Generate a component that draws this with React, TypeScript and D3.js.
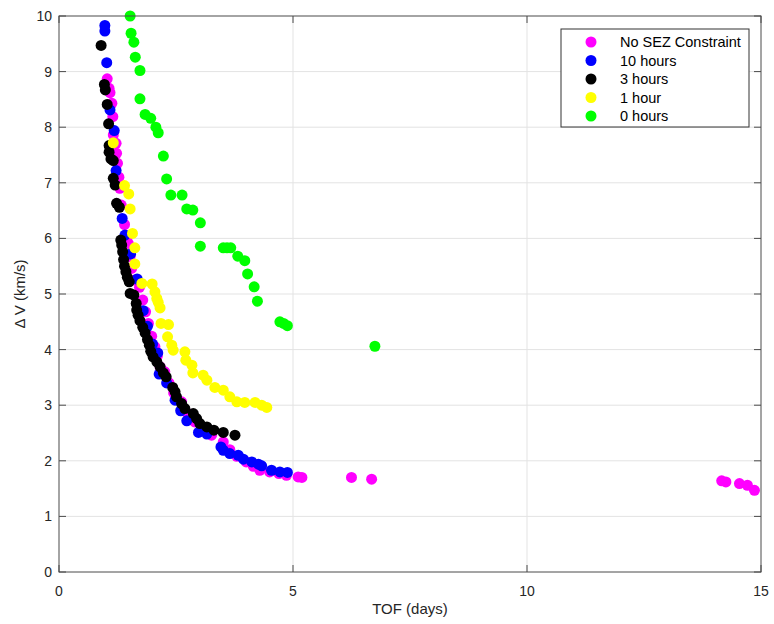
import React from "react";
import * as d3 from "d3";

type Pt = [number, number];

// Time of flight (days) vs. total delta-V (km/s) for each SEZ constraint
const noSez: Pt[] = [
  [1.03, 8.87], [1.07, 8.7], [1.09, 8.62], [1.13, 8.43], [1.15, 8.19], [1.16, 7.86],
  [1.22, 7.71], [1.23, 7.53], [1.25, 7.35], [1.28, 7.1], [1.3, 6.9], [1.33, 6.6],
  [1.4, 6.25], [1.45, 6.0], [1.48, 5.91], [1.52, 5.67], [1.55, 5.46], [1.62, 5.25],
  [1.72, 5.12], [1.79, 4.89], [1.85, 4.68], [1.91, 4.47], [1.98, 4.24], [2.05, 4.05],
  [2.1, 3.88], [2.16, 3.69], [2.26, 3.6], [2.35, 3.4], [2.45, 3.22], [2.62, 3.06],
  [2.75, 2.85], [2.9, 2.7], [3.05, 2.6], [3.26, 2.46], [3.51, 2.34], [3.65, 2.2],
  [3.8, 2.08], [4.0, 1.98], [4.15, 1.9], [4.29, 1.83], [4.5, 1.8], [4.7, 1.77],
  [4.86, 1.74], [5.11, 1.71], [5.19, 1.7], [6.25, 1.7], [6.68, 1.67], [14.16, 1.64],
  [14.25, 1.62], [14.54, 1.59], [14.71, 1.56], [14.86, 1.47],
];

const tenHours: Pt[] = [
  [0.98, 9.83], [0.98, 9.73], [1.02, 9.16], [1.09, 8.31], [1.18, 7.94], [1.22, 7.22],
  [1.35, 6.36], [1.41, 6.06], [1.53, 5.72], [1.67, 5.27], [1.8, 4.7], [1.89, 4.42],
  [2.0, 4.1], [2.11, 3.94], [2.14, 3.56], [2.3, 3.4], [2.48, 3.09], [2.6, 2.9],
  [2.73, 2.72], [2.98, 2.51], [3.16, 2.48], [3.46, 2.25], [3.51, 2.19], [3.65, 2.13],
  [3.83, 2.1], [3.94, 2.03], [4.12, 1.98], [4.26, 1.94], [4.33, 1.91], [4.54, 1.83],
  [4.72, 1.8], [4.88, 1.79],
];

const threeHours: Pt[] = [
  [0.9, 9.47], [0.97, 8.77], [0.99, 8.67], [1.03, 8.41], [1.06, 8.06], [1.07, 7.67],
  [1.07, 7.55], [1.11, 7.43], [1.16, 7.4], [1.16, 7.08], [1.2, 6.96], [1.23, 6.63],
  [1.29, 6.56], [1.32, 5.97], [1.34, 5.88], [1.36, 5.76], [1.38, 5.62], [1.4, 5.5],
  [1.43, 5.4], [1.46, 5.3], [1.5, 5.22], [1.52, 5.01], [1.6, 4.98], [1.65, 4.83],
  [1.66, 4.71], [1.69, 4.62], [1.73, 4.52], [1.79, 4.4], [1.84, 4.3], [1.89, 4.18],
  [1.93, 4.08], [1.96, 3.97], [2.01, 3.87], [2.09, 3.78], [2.16, 3.69], [2.23, 3.58],
  [2.29, 3.51], [2.43, 3.32], [2.48, 3.24], [2.51, 3.15], [2.62, 3.03], [2.69, 2.94],
  [2.87, 2.85], [2.94, 2.76], [3.01, 2.67], [3.16, 2.61], [3.31, 2.55], [3.51, 2.51],
  [3.76, 2.46],
];

const oneHour: Pt[] = [
  [1.16, 7.72], [1.4, 6.95], [1.49, 6.8], [1.52, 6.53], [1.57, 6.09], [1.62, 5.83],
  [1.62, 5.54], [1.77, 5.19], [1.99, 5.18], [2.05, 5.04], [2.09, 4.92], [2.12, 4.85],
  [2.16, 4.75], [2.18, 4.47], [2.34, 4.45], [2.32, 4.23], [2.41, 4.08], [2.44, 3.99],
  [2.69, 3.96], [2.71, 3.81], [2.84, 3.72], [2.86, 3.58], [3.08, 3.54], [3.16, 3.45],
  [3.33, 3.32], [3.51, 3.27], [3.65, 3.15], [3.8, 3.06], [3.97, 3.05], [4.19, 3.05],
  [4.33, 3.0], [4.44, 2.96],
];

const zeroHours: Pt[] = [
  [1.52, 10.0], [1.54, 9.69], [1.6, 9.53], [1.63, 9.26], [1.73, 9.02], [1.73, 8.51],
  [1.84, 8.23], [1.96, 8.16], [2.07, 8.0], [2.12, 7.9], [2.23, 7.48], [2.3, 7.07],
  [2.39, 6.78], [2.63, 6.78], [2.73, 6.53], [2.86, 6.51], [3.02, 6.28], [3.02, 5.86],
  [3.51, 5.83], [3.59, 5.83], [3.67, 5.83], [3.82, 5.68], [3.97, 5.6], [4.03, 5.36],
  [4.17, 5.13], [4.24, 4.87], [4.72, 4.5], [4.8, 4.47], [4.88, 4.43], [6.75, 4.06],
];

const seriesNames = ["No SEZ Constraint", "10 hours", "3 hours", "1 hour", "0 hours"];
const seriesColors = ["#ff00ff", "#0000ff", "#000000", "#ffff00", "#00ff00"];
const seriesData = [noSez, tenHours, threeHours, oneHour, zeroHours];

const xTicks = [0, 5, 10, 15];
const yTicks = [0, 1, 2, 3, 4, 5, 6, 7, 8, 9, 10];

const W = 774;
const H = 624;
const M = { left: 59, top: 16, right: 13, bottom: 52 };
const FONT = "'Liberation Sans', Arial, Helvetica, sans-serif";

export default function App() {
  const x = d3.scaleLinear().domain([0, 15]).range([M.left, W - M.right]);
  const y = d3.scaleLinear().domain([0, 10]).range([H - M.bottom, M.top]);
  const [x0, x1] = x.range();
  const [y0, y1] = y.range();
  const axisColor = "#4a4a4a";
  const tickLen = 7;
  const r = 5.5;

  const legend = { x: 561, y: 29, w: 188, h: 98, row: 18.5 };

  return (
    <svg
      width={W}
      height={H}
      style={{ position: "absolute", left: 0, top: 0, display: "block", background: "#fff" }}
      fontFamily={FONT}
    >
      {/* grid */}
      <g stroke="#e3e3e3" strokeWidth={1}>
        {xTicks.slice(1, -1).map((t) => (
          <line key={`gx${t}`} x1={x(t)} x2={x(t)} y1={y1} y2={y0} />
        ))}
        {yTicks.slice(1, -1).map((t) => (
          <line key={`gy${t}`} x1={x0} x2={x1} y1={y(t)} y2={y(t)} />
        ))}
      </g>

      {/* markers, drawn in series order */}
      {seriesData.map((pts, i) => (
        <g key={seriesNames[i]} fill={seriesColors[i]}>
          {pts.map((p, j) => (
            <circle key={j} cx={x(p[0])} cy={y(p[1])} r={r} />
          ))}
        </g>
      ))}

      {/* axes box and inward ticks */}
      <g stroke={axisColor} strokeWidth={1} fill="none">
        <rect x={x0} y={y1} width={x1 - x0} height={y0 - y1} />
        {xTicks.map((t) => (
          <g key={`tx${t}`}>
            <line x1={x(t)} x2={x(t)} y1={y0} y2={y0 - tickLen} />
            <line x1={x(t)} x2={x(t)} y1={y1} y2={y1 + tickLen} />
          </g>
        ))}
        {yTicks.map((t) => (
          <g key={`ty${t}`}>
            <line x1={x0} x2={x0 + tickLen} y1={y(t)} y2={y(t)} />
            <line x1={x1} x2={x1 - tickLen} y1={y(t)} y2={y(t)} />
          </g>
        ))}
      </g>

      {/* tick labels */}
      <g fontSize={14} fill="#262626">
        {xTicks.map((t) => (
          <text key={`lx${t}`} x={x(t)} y={y0 + 24} textAnchor="middle">
            {t}
          </text>
        ))}
        {yTicks.map((t) => (
          <text key={`ly${t}`} x={x0 - 7} y={y(t) + 5} textAnchor="end">
            {t}
          </text>
        ))}
      </g>

      {/* axis titles */}
      <text x={(x0 + x1) / 2} y={y0 + 42} textAnchor="middle" fontSize={15} fill="#262626">
        TOF (days)
      </text>
      <text
        transform={`translate(25,${(y0 + y1) / 2}) rotate(-90)`}
        textAnchor="middle"
        fontSize={15}
        fill="#262626"
      >
        Δ V (km/s)
      </text>

      {/* legend */}
      <g>
        <rect
          x={legend.x}
          y={legend.y}
          width={legend.w}
          height={legend.h}
          fill="#fff"
          stroke="#333"
          strokeWidth={1}
        />
        {seriesNames.map((name, i) => {
          const cy = legend.y + 13 + i * legend.row;
          return (
            <g key={`lg${name}`}>
              <circle cx={legend.x + 30} cy={cy} r={5.5} fill={seriesColors[i]} />
              <text x={legend.x + 59} y={cy + 5} fontSize={14.5} fill="#000">
                {name}
              </text>
            </g>
          );
        })}
      </g>
    </svg>
  );
}
